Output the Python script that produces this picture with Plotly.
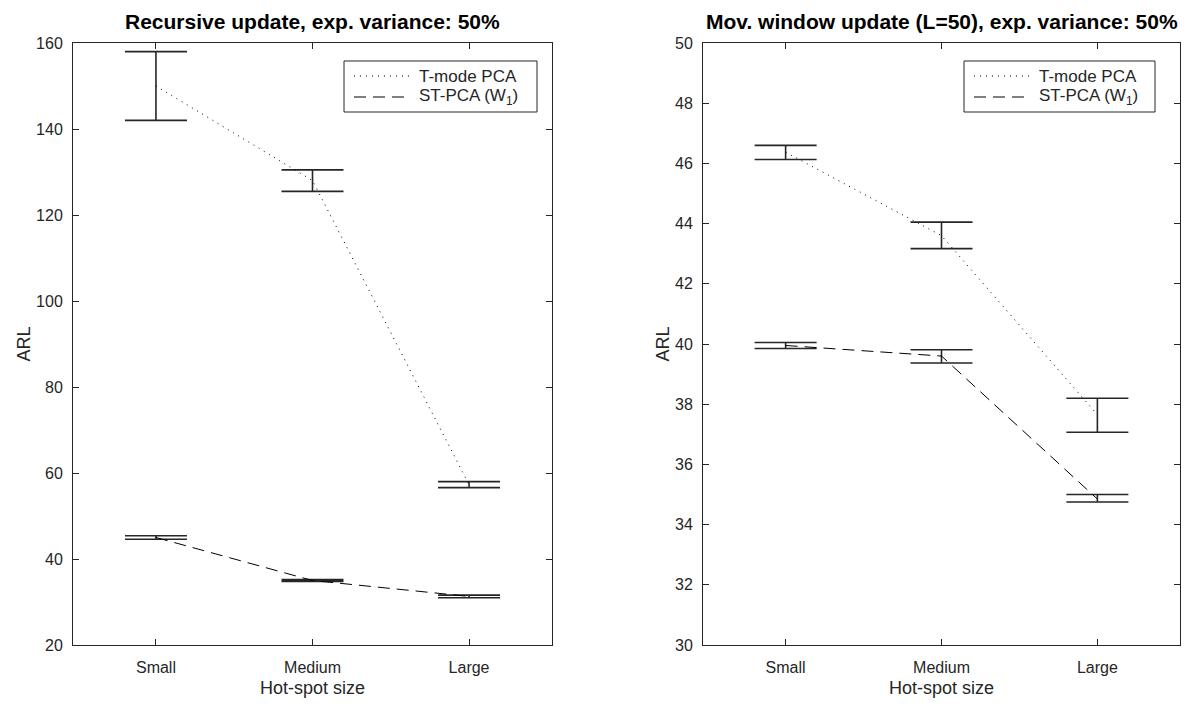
import plotly.graph_objects as go

# Hot-spot size categories
categories = ["Small", "Medium", "Large"]
x_pos = [1, 2, 3]

# Recursive update, exp. variance 50%
rec_tmode_mean = [150.0, 128.0, 57.3]
rec_tmode_upper = [158.0, 130.5, 58.0]
rec_tmode_lower = [142.0, 125.5, 56.6]
rec_st_mean = [45.0, 35.0, 31.3]
rec_st_upper = [45.4, 35.2, 31.6]
rec_st_lower = [44.6, 34.8, 31.0]

# Moving window update (L=50), exp. variance 50%
mov_tmode_mean = [46.37, 43.6, 37.65]
mov_tmode_upper = [46.6, 44.05, 38.2]
mov_tmode_lower = [46.13, 43.17, 37.07]
mov_st_mean = [39.95, 39.6, 34.85]
mov_st_upper = [40.05, 39.81, 35.0]
mov_st_lower = [39.85, 39.37, 34.75]

legend_names = ["T-mode PCA", "ST-PCA (W<sub>1</sub>)"]

AX = "#262626"
FONT = "Liberation Sans, Arial, sans-serif"
DOT = "1px,5px"
DASH = "12px,7px"
W, H = 1196, 706


def series(mean, upper, lower, name, dash, xa, ya):
    return go.Scatter(
        x=x_pos, y=mean, mode="lines", name=name,
        line=dict(color="black", width=1, dash=dash),
        error_y=dict(type="data", symmetric=False,
                     array=[u - m for u, m in zip(upper, mean)],
                     arrayminus=[m - l for m, l in zip(mean, lower)],
                     color=AX, thickness=1.6, width=31),
        xaxis=xa, yaxis=ya, showlegend=False,
    )


fig = go.Figure()
fig.add_trace(series(rec_tmode_mean, rec_tmode_upper, rec_tmode_lower, legend_names[0], DOT, "x", "y"))
fig.add_trace(series(rec_st_mean, rec_st_upper, rec_st_lower, legend_names[1], DASH, "x", "y"))
fig.add_trace(series(mov_tmode_mean, mov_tmode_upper, mov_tmode_lower, legend_names[0], DOT, "x2", "y2"))
fig.add_trace(series(mov_st_mean, mov_st_upper, mov_st_lower, legend_names[1], DASH, "x2", "y2"))

left_dom = [73 / W, 552 / W]
right_dom = [703 / W, 1180 / W]
y_dom = [1 - 645 / H, 1 - 43 / H]

xcommon = dict(
    tickmode="array", tickvals=x_pos, ticktext=categories, range=[0.47, 3.53],
    showline=True, linecolor=AX, linewidth=1, mirror="ticks", ticks="inside",
    ticklen=6, tickcolor=AX, showgrid=False, zeroline=False, automargin=False,
    ticklabelstandoff=8,
    tickfont=dict(family=FONT, size=16, color=AX),
    title=dict(text="Hot-spot size", font=dict(family=FONT, size=18, color=AX), standoff=6),
)
ycommon = dict(
    showline=True, linecolor=AX, linewidth=1, mirror="ticks", ticks="inside",
    ticklen=6, tickcolor=AX, showgrid=False, zeroline=False, automargin=False,
    ticklabelstandoff=6,
    tickfont=dict(family=FONT, size=16, color=AX),
    title=dict(text="ARL", font=dict(family=FONT, size=18, color=AX), standoff=0),
)

shapes = []
annotations = []


def px(x):
    return x / W


def py(y):
    return 1 - y / H


# Legend boxes drawn in figure pixels
for box_left, box_right in [(344, 537), (964, 1155)]:
    top, bottom = 61, 112
    shapes.append(dict(type="rect", xref="paper", yref="paper",
                       x0=px(box_left), x1=px(box_right), y0=py(bottom), y1=py(top),
                       line=dict(color=AX, width=1), fillcolor="white", layer="above"))
    for row, (label, dash) in enumerate(zip(legend_names, [DOT, DASH])):
        yy = 76 + row * 21
        shapes.append(dict(type="line", xref="paper", yref="paper",
                           x0=px(box_left + 10), x1=px(box_left + 66), y0=py(yy), y1=py(yy),
                           line=dict(color="black", width=1, dash=dash), layer="above"))
        annotations.append(dict(text=label, x=px(box_left + 73), y=py(yy), xref="paper", yref="paper",
                                xanchor="left", yanchor="middle", showarrow=False,
                                font=dict(family=FONT, size=17, color=AX)))

titles = ["<b>Recursive update, exp. variance: 50%</b>",
          "<b>Mov. window update (L=50), exp. variance: 50%</b>"]
for dom, txt in zip([left_dom, right_dom], titles):
    annotations.append(dict(text=txt, x=(dom[0] + dom[1]) / 2, y=py(21), xref="paper", yref="paper",
                            xanchor="center", yanchor="middle", showarrow=False,
                            font=dict(family=FONT, size=21, color="black")))

fig.update_layout(
    width=W, height=H, margin=dict(l=0, r=0, t=0, b=0, autoexpand=False),
    paper_bgcolor="white", plot_bgcolor="white", showlegend=False,
    xaxis=dict(domain=left_dom, anchor="y", **xcommon),
    yaxis=dict(domain=y_dom, anchor="x", range=[20, 160], tickvals=list(range(20, 161, 20)), **ycommon),
    xaxis2=dict(domain=right_dom, anchor="y2", **xcommon),
    yaxis2=dict(domain=y_dom, anchor="x2", range=[30, 50], tickvals=list(range(30, 51, 2)), **ycommon),
    shapes=shapes,
    annotations=annotations,
)

fig.write_html("out.html")
